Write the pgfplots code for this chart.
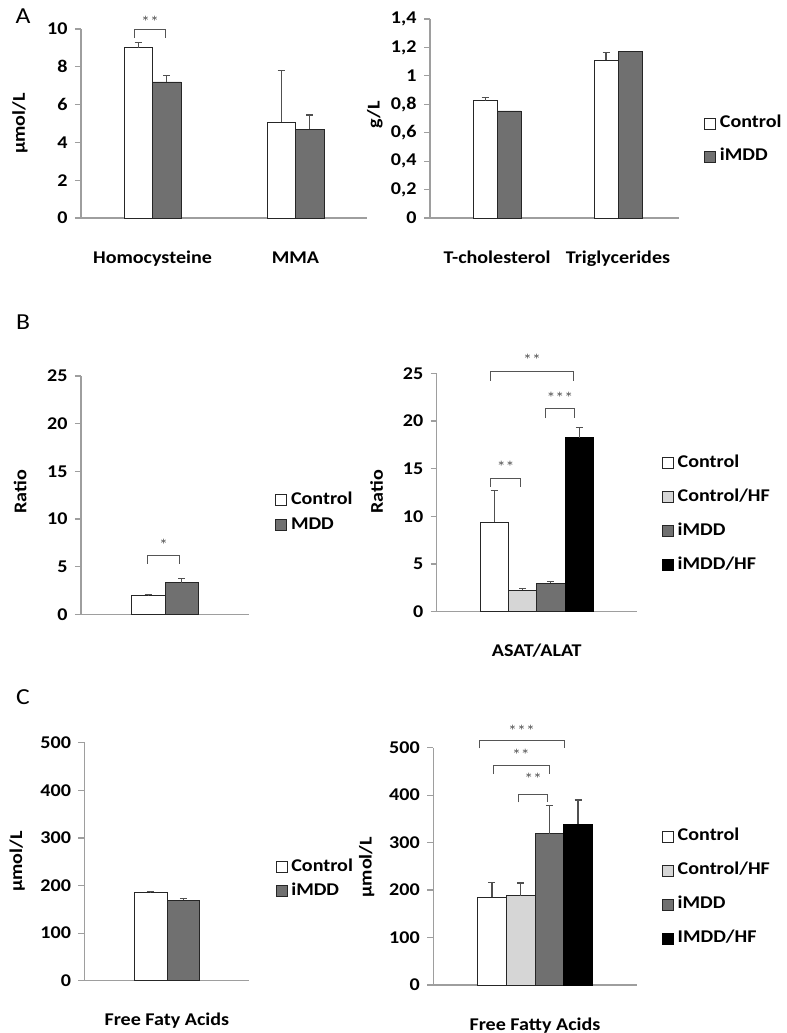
\documentclass[border=0pt]{standalone}
\usepackage{fontspec}
\setmainfont{Carlito}[FakeStretch=1.12]
\newfontfamily\plainfont{Carlito}
\usepackage{pgfplots}
\pgfplotsset{compat=1.18}
\definecolor{axgray}{RGB}{158,158,158}
\definecolor{bardark}{RGB}{112,112,112}
\definecolor{barlight}{RGB}{214,214,214}
\definecolor{errgray}{RGB}{80,80,80}
\definecolor{brgray}{RGB}{85,85,85}
\newcommand{\bigfont}{\fontsize{18}{21}\selectfont\bfseries}
\newcommand{\starfont}{\fontsize{16}{17}\selectfont\color{brgray}}
\newcommand{\letterfont}{\fontsize{23}{26}\selectfont}
\tikzset{br/.style={brgray, line width=1bp}}

\pgfplotsset{
  panel/.style={
    scale only axis, anchor=south west, clip=false,
    axis x line*=bottom, axis y line*=left,
    axis line style={axgray, line width=1.2bp},
    every tick/.style={axgray, line width=1.2bp},
    major tick length=6bp,
    ytick align=outside,
    x tick style={draw=none},
    ymin=0,
    ybar=0pt,
    tick label style={font=\bigfont},
    label style={font=\bigfont},
    /pgf/number format/assume math mode=true,
    xticklabel style={anchor=base, yshift=-39bp},
    yticklabel style={anchor=east, xshift=-4bp},
    error bars/y dir=plus, error bars/y explicit,
    error bars/error bar style={errgray, line width=1.1bp},
    error bars/error mark options={errgray, line width=1.1bp, mark size=3.5bp, rotate=90},
    legend style={draw=none, fill=none, anchor=west, font=\bigfont, inner sep=0pt, column sep=4bp,
      nodes={inner sep=0pt, text height=13bp, text depth=4bp}},
    legend cell align=left,
    legend image code/.code={\draw[#1,/tikz/.cd,line width=0.8bp] (0bp,-5.5bp) rectangle (11bp,5.5bp);},
  },
  cw/.style={fill=white, draw=black!85, line width=0.8bp},
  cl/.style={fill=barlight, draw=black!85, line width=0.8bp},
  cg/.style={fill=bardark, draw=black!85, line width=0.8bp},
  ck/.style={fill=black, draw=black, line width=0.8bp},
}

\begin{document}
\begin{tikzpicture}
\path[use as bounding box] (0bp,0bp) rectangle (787bp,-1033bp);

\node[font=\letterfont, anchor=center] at (23bp,-16bp) {A};
\node[font=\letterfont, anchor=center] at (23bp,-322bp) {B};
\node[font=\letterfont, anchor=center] at (23bp,-697bp) {C};

% ---------- A left
\begin{axis}[panel, at={(81bp,-218bp)}, width=286bp, height=189bp,
  ymax=10, ytick={0,2,4,6,8,10},
  xmin=-0.5, xmax=1.5, xtick={0,1}, xticklabels={Homocysteine, MMA},
  bar width=0.2,
  ylabel={µmol/L}, ylabel style={at={(axis description cs:-0.213,0.5)}, anchor=center}]
\addplot[cw, bar shift=-0.1] coordinates {(0,9.01) +- (0,0.28) (1,5.08) +- (0,2.71)};
\addplot[cg, bar shift=0.1] coordinates {(0,7.2) +- (0,0.35) (1,4.69) +- (0,0.76)};
\draw[br] (axis cs:-0.127,9.52) -- (axis cs:-0.127,10.0) -- (axis cs:0.092,10.0) -- (axis cs:0.092,9.52);
\node[font=\starfont] at (axis cs:-0.017,10.4) {**};
\end{axis}

% ---------- A right
\begin{axis}[panel, at={(430bp,-218bp)}, width=249bp, height=199bp,
  ymax=1.4, ytick={0,0.2,0.4,0.6,0.8,1,1.2,1.4},
  yticklabels={0,{0,2},{0,4},{0,6},{0,8},1,{1,2},{1,4}},
  xmin=-0.554, xmax=1.504, xtick={0,1}, xticklabels={T-cholesterol, Triglycerides},
  bar width=0.198,
  ylabel={g/L}, ylabel style={at={(axis description cs:-0.221,0.52)}, anchor=center},
  legend style={at={(axis description cs:1.10,0.392)}, row sep=16bp}]
\addplot[cw, bar shift=-0.099] coordinates {(0,0.825) +- (0,0.022) (1,1.11) +- (0,0.053)};
\addplot[cg, bar shift=0.099, error bars/y dir=none] coordinates {(0,0.753) (1,1.17)};
\legend{Control, iMDD}
\end{axis}

% ---------- B left
\begin{axis}[panel, at={(81bp,-614.3bp)}, width=168bp, height=238.3bp,
  ymax=25, ytick={0,5,10,15,20,25},
  xmin=-0.5, xmax=0.5, xtick={0}, xticklabels={},
  bar width=0.2,
  ylabel={Ratio}, ylabel style={at={(axis description cs:-0.363,0.514)}, anchor=center},
  legend style={at={(axis description cs:1.155,0.427)}, row sep=8bp}]
\addplot[cw, bar shift=-0.1] coordinates {(0,1.96) +- (0,0.08)};
\addplot[cg, bar shift=0.1] coordinates {(0,3.32) +- (0,0.45)};
\legend{Control, MDD}
\draw[br] (axis cs:-0.107,5.3) -- (axis cs:-0.107,6.2) -- (axis cs:0.089,6.2) -- (axis cs:0.089,5.3);
\node[font=\starfont] at (axis cs:-0.009,7.3) {*};
\end{axis}

% ---------- B right
\begin{axis}[panel, at={(436.7bp,-611.7bp)}, width=200bp, height=238.4bp,
  ymax=25, ytick={0,5,10,15,20,25},
  xmin=-0.5, xmax=0.5, xtick={0}, xticklabels={ASAT/ALAT},
  bar width=0.142,
  ylabel={Ratio}, ylabel style={at={(axis description cs:-0.30,0.503)}, anchor=center},
  legend style={at={(axis description cs:1.125,0.409)}, row sep=17bp}]
\addplot[cw, bar shift=-0.213] coordinates {(0,9.41) +- (0,3.29)};
\addplot[cl, bar shift=-0.071] coordinates {(0,2.28) +- (0,0.15)};
\addplot[cg, bar shift=0.071] coordinates {(0,3.0) +- (0,0.15)};
\addplot[ck, bar shift=0.213] coordinates {(0,18.26) +- (0,1.01)};
\legend{Control, Control/HF, iMDD, iMDD/HF}
\draw[br] (axis cs:-0.229,13.1) -- (axis cs:-0.229,14.0) -- (axis cs:-0.082,14.0) -- (axis cs:-0.082,13.1);
\node[font=\starfont] at (axis cs:-0.155,15.2) {**};
\draw[br] (axis cs:0.045,20.3) -- (axis cs:0.045,21.27) -- (axis cs:0.188,21.27) -- (axis cs:0.188,20.3);
\node[font=\starfont] at (axis cs:0.116,22.4) {***};
\draw[br] (axis cs:-0.229,24.2) -- (axis cs:-0.229,25.2) -- (axis cs:0.183,25.2) -- (axis cs:0.183,24.2);
\node[font=\starfont] at (axis cs:-0.023,26.4) {**};
\end{axis}

% ---------- C left
\begin{axis}[panel, at={(84.5bp,-980.7bp)}, width=164.8bp, height=238bp,
  ymax=500, ytick={0,100,200,300,400,500},
  xmin=-0.5, xmax=0.5, xtick={0}, xticklabels={Free Faty Acids},
  bar width=0.2,
  ylabel={µmol/L}, ylabel style={at={(axis description cs:-0.408,0.5)}, anchor=center},
  legend style={at={(axis description cs:1.158,0.427)}, row sep=7bp}]
\addplot[cw, bar shift=-0.1] coordinates {(0,185) +- (0,2)};
\addplot[cg, bar shift=0.1] coordinates {(0,169) +- (0,3)};
\legend{Control, iMDD}
\end{axis}

% ---------- C right
\begin{axis}[panel, at={(433.3bp,-985bp)}, width=203.4bp, height=237.3bp,
  ymax=500, ytick={0,100,200,300,400,500},
  xmin=-0.5, xmax=0.5, xtick={0}, xticklabels={Free Fatty Acids},
  bar width=0.141,
  ylabel={µmol/L}, ylabel style={at={(axis description cs:-0.327,0.496)}, anchor=center},
  legend style={at={(axis description cs:1.123,0.411)}, row sep=17bp}]
\addplot[cw, bar shift=-0.2115] coordinates {(0,185.4) +- (0,30.2)};
\addplot[cl, bar shift=-0.0705] coordinates {(0,188.2) +- (0,26.8)};
\addplot[cg, bar shift=0.0705] coordinates {(0,318.8) +- (0,59.8)};
\addplot[ck, bar shift=0.2115] coordinates {(0,339.2) +- (0,50.6)};
\legend{Control, Control/HF, iMDD, IMDD/HF}
\draw[br] (axis cs:-0.275,498.7) -- (axis cs:-0.275,516) -- (axis cs:0.144,516) -- (axis cs:0.144,498.7);
\node[font=\starfont] at (axis cs:-0.066,536) {***};
\draw[br] (axis cs:-0.206,444.6) -- (axis cs:-0.206,463.5) -- (axis cs:0.069,463.5) -- (axis cs:0.069,444.6);
\node[font=\starfont] at (axis cs:-0.069,486) {**};
\draw[br] (axis cs:-0.080,385) -- (axis cs:-0.080,402.4) -- (axis cs:0.062,402.4) -- (axis cs:0.062,385);
\node[font=\starfont] at (axis cs:-0.009,433.4) {**};
\end{axis}
\end{tikzpicture}
\end{document}
